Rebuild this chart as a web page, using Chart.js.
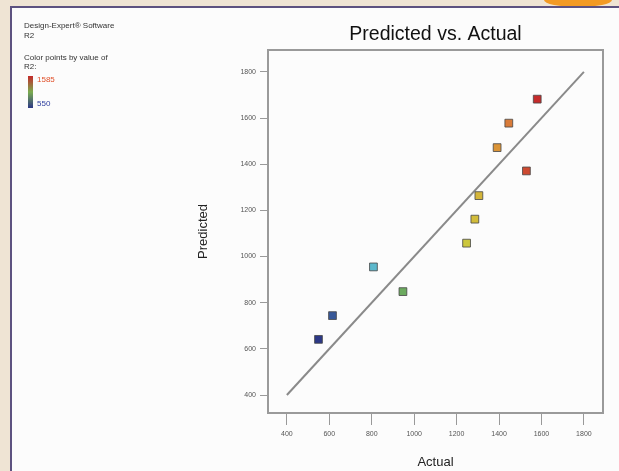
<!DOCTYPE html>
<html>
<head>
<meta charset="utf-8">
<script src="https://cdn.jsdelivr.net/npm/chart.js@4.4.1/dist/chart.umd.min.js"></script>
<style>
  html, body { margin: 0; padding: 0; background: #efe4d4; }
  #wrap { width: 619px; height: 471px; }
</style>
</head>
<body>
<div id="wrap"><canvas id="chart"></canvas></div>
<script>
// Valores
const actual = [1580, 1446, 1391, 1529, 1305, 1286, 1247, 808, 947, 615, 549];
const predicted = [1682, 1578, 1472, 1371, 1264, 1162, 1058, 955, 848, 744, 641];
const fitLine = [400, 1800];
const xTicks = [400, 600, 800, 1000, 1200, 1400, 1600, 1800];
const yTicks = [400, 600, 800, 1000, 1200, 1400, 1600, 1800];
const colorRange = [550, 1585];

// escala de color azul -> cian -> verde -> amarillo -> rojo
const stops = [
  [0.00, [44, 56, 134]],
  [0.25, [92, 184, 204]],
  [0.40, [110, 168, 82]],
  [0.68, [206, 200, 60]],
  [0.80, [220, 154, 54]],
  [0.88, [216, 116, 58]],
  [1.00, [196, 40, 42]],
];
function colorFor(v) {
  let t = (v - colorRange[0]) / (colorRange[1] - colorRange[0]);
  t = Math.max(0, Math.min(1, t));
  for (let i = 1; i < stops.length; i++) {
    if (t <= stops[i][0]) {
      const a = stops[i - 1], b = stops[i];
      const f = (t - a[0]) / (b[0] - a[0]);
      const c = a[1].map((x, k) => Math.round(x + (b[1][k] - x) * f));
      return `rgb(${c[0]},${c[1]},${c[2]})`;
    }
  }
  return "rgb(196,40,42)";
}

const points = actual.map((x, i) => ({ x: x, y: predicted[i] }));
const line = fitLine.map((v) => ({ x: v, y: v }));

// fondo, marco y textos sueltos
const decor = {
  id: "decor",
  beforeDraw(chart) {
    const ctx = chart.ctx;
    ctx.save();
    ctx.fillStyle = "#efe4d4";
    ctx.fillRect(0, 0, chart.width, chart.height);
    ctx.fillStyle = "#f29a24";
    ctx.beginPath();
    ctx.ellipse(578, 0, 34, 7, 0, 0, Math.PI * 2);
    ctx.fill();
    ctx.fillStyle = "#fcfcfc";
    ctx.fillRect(11, 7, chart.width - 11, chart.height - 7);
    ctx.strokeStyle = "#5d5280";
    ctx.lineWidth = 2;
    ctx.beginPath();
    ctx.moveTo(11, chart.height);
    ctx.lineTo(11, 7);
    ctx.lineTo(chart.width, 7);
    ctx.stroke();
    ctx.restore();
  },
  beforeDatasetsDraw(chart) {
    const { ctx, chartArea: a } = chart;
    ctx.save();
    ctx.strokeStyle = "#9a9a9a";
    ctx.lineWidth = 2;
    ctx.beginPath();
    ctx.moveTo(a.left, a.top);
    ctx.lineTo(a.right, a.top);
    ctx.lineTo(a.right, a.bottom);
    ctx.stroke();
    ctx.restore();
  },
  afterDraw(chart) {
    const { ctx, chartArea: a } = chart;
    ctx.save();
    ctx.fillStyle = "#111";
    ctx.textAlign = "center";
    ctx.textBaseline = "middle";
    ctx.font = "19.5px 'Liberation Sans', Arial, sans-serif";
    ctx.fillText("Predicted vs. Actual", (a.left + a.right) / 2, 35);

    ctx.textAlign = "left";
    ctx.fillStyle = "#333";
    ctx.font = "8px 'Liberation Sans', Arial, sans-serif";
    ctx.fillText("Design-Expert\u00AE Software", 24, 26);
    ctx.fillText("R2", 24, 36);
    ctx.fillText("Color points by value of", 24, 58);
    ctx.fillText("R2:", 24, 67);

    const g = ctx.createLinearGradient(0, 76, 0, 108);
    g.addColorStop(0, colorFor(colorRange[1]));
    g.addColorStop(0.5, colorFor(1000));
    g.addColorStop(1, colorFor(colorRange[0]));
    ctx.fillStyle = g;
    ctx.fillRect(28, 76, 5, 32);
    ctx.fillStyle = "#e0502a";
    ctx.fillText(String(colorRange[1]), 37, 80);
    ctx.fillStyle = "#3040a0";
    ctx.fillText(String(colorRange[0]), 37, 104);
    ctx.restore();
  },
};

new Chart(document.getElementById("chart"), {
  type: "scatter",
  data: {
    datasets: [
      {
        data: points,
        pointStyle: "rect",
        pointRadius: 5.5,
        pointBorderWidth: 1,
        pointBackgroundColor: actual.map(colorFor),
        pointBorderColor: "rgba(70,70,70,0.8)",
        order: 0,
      },
      {
        data: line,
        showLine: true,
        pointRadius: 0,
        borderColor: "#8a8a8a",
        borderWidth: 2,
        order: 1,
      },
    ],
  },
  options: {
    responsive: true,
    maintainAspectRatio: false,
    animation: false,
    layout: { padding: { left: 196, top: 50, right: 16, bottom: 0 } },
    plugins: { legend: { display: false }, tooltip: { enabled: false } },
    scales: {
      x: {
        type: "linear",
        min: 311,
        max: 1890,
        afterBuildTicks: (s) => { s.ticks = xTicks.map((v) => ({ value: v })); },
        afterFit: (s) => { s.height = 58; },
        grid: { drawOnChartArea: false, tickLength: 12, color: "#999" },
        border: { color: "#9a9a9a", width: 2 },
        ticks: { font: { size: 7 }, color: "#555", padding: 5, maxRotation: 0,
          callback: (v) => String(v) },
        title: { display: true, text: "Actual", color: "#222",
          font: { size: 13, family: "'Liberation Sans', Arial" }, padding: { top: 0, bottom: 1 } },
      },
      y: {
        type: "linear",
        min: 322,
        max: 1895,
        afterBuildTicks: (s) => { s.ticks = yTicks.map((v) => ({ value: v })); },
        afterFit: (s) => { s.width = 72; },
        grid: { drawOnChartArea: false, tickLength: 8, color: "#999" },
        border: { color: "#9a9a9a", width: 2 },
        ticks: { font: { size: 7 }, color: "#555", padding: 4,
          callback: (v) => String(v) },
        title: { display: true, text: "Predicted", color: "#222",
          font: { size: 13, family: "'Liberation Sans', Arial" }, padding: { top: 0, bottom: 1 } },
      },
    },
  },
  plugins: [decor],
});
</script>
</body>
</html>
